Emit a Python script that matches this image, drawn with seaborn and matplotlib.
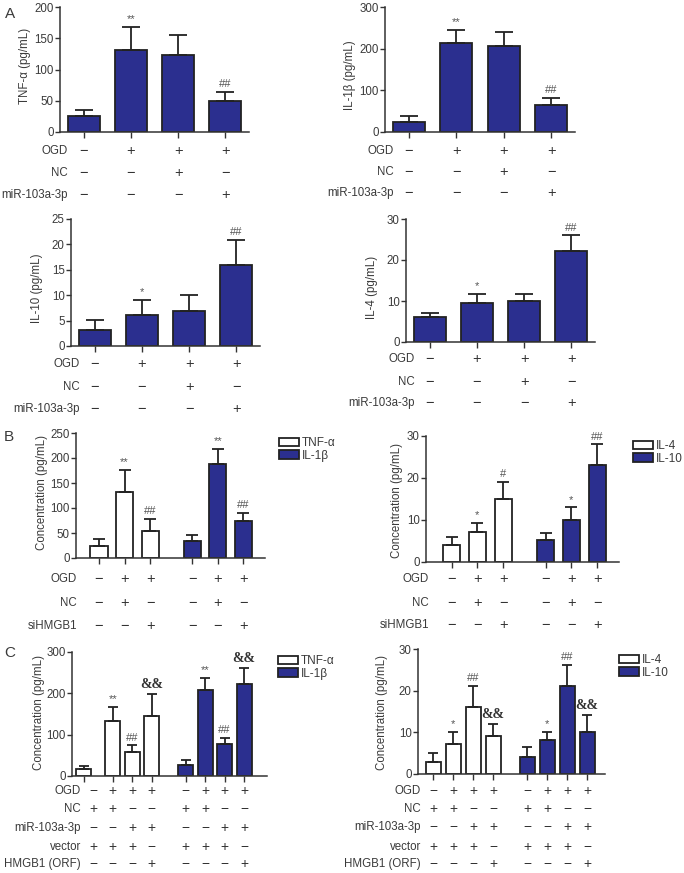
import numpy as np
import pandas as pd
import seaborn as sns
import matplotlib.pyplot as plt
from matplotlib.patches import Patch
from matplotlib.transforms import blended_transform_factory

# ---- data ----
# panel A (single series, 4 groups)
tnf_a = [25, 132, 124, 49]
tnf_a_err = [11, 36, 32, 15]
tnf_a_marks = ["", "**", "", "##"]
il1b_a = [24, 214, 206, 66]
il1b_a_err = [14, 32, 35, 15]
il1b_a_marks = ["", "**", "", "##"]
il10_a = [3.1, 6.1, 6.8, 16.0]
il10_a_err = [2.0, 2.9, 3.3, 4.9]
il10_a_marks = ["", "*", "", "##"]
il4_a = [6.1, 9.4, 9.9, 22.1]
il4_a_err = [0.9, 2.4, 1.9, 3.9]
il4_a_marks = ["", "*", "", "##"]
rows_a = ["OGD", "NC", "miR-103a-3p"]
signs_a = [["−", "+", "+", "+"],
           ["−", "−", "+", "−"],
           ["−", "−", "−", "+"]]

# panel B (two series, 3 groups each)
tnf_b = [24, 133, 55]
tnf_b_err = [14, 43, 23]
tnf_b_marks = ["", "**", "##"]
il1b_b = [34, 188, 74]
il1b_b_err = [12, 31, 17]
il1b_b_marks = ["", "**", "##"]
il4_b = [4.1, 7.1, 15.1]
il4_b_err = [1.9, 2.3, 4.0]
il4_b_marks = ["", "*", "#"]
il10_b = [5.2, 10.1, 23.0]
il10_b_err = [1.8, 2.9, 5.0]
il10_b_marks = ["", "*", "##"]
rows_b = ["OGD", "NC", "siHMGB1"]
signs_b = [["−", "+", "+"] * 2,
           ["−", "+", "−"] * 2,
           ["−", "−", "+"] * 2]

# panel C (two series, 4 groups each)
tnf_c = [18, 134, 58, 144]
tnf_c_err = [7, 34, 16, 55]
tnf_c_marks = ["", "**", "##", "&&"]
il1b_c = [26, 208, 77, 222]
il1b_c_err = [12, 30, 16, 39]
il1b_c_marks = ["", "**", "##", "&&"]
il4_c = [3.0, 7.2, 16.2, 9.1]
il4_c_err = [2.0, 3.0, 4.9, 3.0]
il4_c_marks = ["", "*", "##", "&&"]
il10_c = [4.2, 8.2, 21.2, 10.2]
il10_c_err = [2.3, 2.0, 5.0, 4.0]
il10_c_marks = ["", "*", "##", "&&"]
rows_c = ["OGD", "NC", "miR-103a-3p", "vector", "HMGB1 (ORF)"]
signs_c = [["−", "+", "+", "+"] * 2,
           ["+", "+", "−", "−"] * 2,
           ["−", "−", "+", "+"] * 2,
           ["+", "+", "+", "−"] * 2,
           ["−", "−", "−", "+"] * 2]

# ---- style ----
sns.set_style("ticks")
plt.rcParams["font.family"] = ["Liberation Sans", "DejaVu Sans"]
plt.rcParams["axes.edgecolor"] = "#333333"
plt.rcParams["axes.linewidth"] = 1.1
plt.rcParams["text.color"] = "#3a3a3a"
plt.rcParams["xtick.color"] = "#333333"
plt.rcParams["ytick.color"] = "#333333"
plt.rcParams["ytick.labelcolor"] = "#3a3a3a"

NAVY = "#2b2f8f"
EDGE = "#222222"
FS = 8.3
W, H = 684, 873

fig = plt.figure(figsize=(W / 100, H / 100), dpi=100)


def add_ax(l, t, r, b):
    return fig.add_axes([l / W, 1 - b / H, (r - l) / W, (b - t) / H])


def draw_bars(ax, xs, vals, errs, marks, series, palette, width, capsize):
    df = pd.DataFrame({"x": xs, "y": vals, "s": series})
    sns.barplot(data=df, x="x", y="y", hue="s", palette=palette,
                native_scale=True, width=width, dodge=False, saturation=1,
                edgecolor=EDGE, linewidth=1.3, errorbar=None, legend=False,
                ax=ax)
    ax.errorbar(xs, vals, yerr=[np.zeros(len(errs)), errs], fmt="none",
                ecolor=EDGE, elinewidth=1.3, capsize=capsize, capthick=1.3,
                zorder=1)
    for x, v, e, m in zip(xs, vals, errs, marks):
        if not m:
            continue
        if m == "&&":
            ax.annotate(m, (x, v + e), xytext=(0, 2), textcoords="offset points",
                        ha="center", va="bottom", fontsize=10,
                        fontweight="bold", family="Liberation Serif",
                        color="#333333")
        else:
            ax.annotate(m, (x, v + e), xytext=(0, 2), textcoords="offset points",
                        ha="center", va="bottom", fontsize=8, color="#555555")


def finish(ax, xs, xlim, ylim, yticks, ylabel, lab_xy, rows, signs,
           row_ys, row_right, sign_xs=None, sign_fs=10.5):
    ax.set_xlim(xlim)
    ax.set_ylim(ylim)
    ax.set_yticks(yticks)
    ax.set_xticks(xs)
    ax.set_xticklabels([])
    ax.set_xlabel("")
    ax.set_ylabel("")
    sns.despine(ax=ax)
    ax.tick_params(axis="y", length=3.5, width=1, labelsize=FS, pad=1)
    ax.tick_params(axis="x", length=4, width=1)
    fig.text(lab_xy[0] / W, 1 - lab_xy[1] / H, ylabel, rotation=90,
             ha="center", va="center", fontsize=FS)
    tr = blended_transform_factory(ax.transData, fig.transFigure)
    if sign_xs is None:
        sign_xs = xs
    for name, row, y in zip(rows, signs, row_ys):
        fig.text(row_right / W, 1 - y / H, name, ha="right", va="center",
                 fontsize=FS)
        for x, s in zip(sign_xs, row):
            ax.text(x, 1 - y / H, s, transform=tr, ha="center", va="center",
                    fontsize=sign_fs, color="#333333")


def add_legend(ax, labels, left, top):
    handles = [Patch(facecolor="white", edgecolor=EDGE, lw=1.3, label=labels[0]),
               Patch(facecolor=NAVY, edgecolor=EDGE, lw=1.3, label=labels[1])]
    ax.legend(handles=handles, loc="upper left",
              bbox_to_anchor=(left / W, 1 - top / H),
              bbox_transform=fig.transFigure, frameon=False, fontsize=8.5,
              handlelength=1.7, handleheight=0.7, handletextpad=0.25,
              labelspacing=0.05, borderpad=0, borderaxespad=0)


pos_a = [0, 1, 2, 3]
ser_a = ["a"] * 4
pal_a = {"a": NAVY}

# A1 TNF-a
ax = add_ax(60, 7, 249, 132)
draw_bars(ax, pos_a, tnf_a, tnf_a_err, tnf_a_marks, ser_a, pal_a, 0.68, 6.5)
finish(ax, pos_a, (-0.5, 3.5), (0, 200), [0, 50, 100, 150, 200],
       "TNF-α (pg/mL)", (25, 66), rows_a, signs_a, [151, 173, 195], 68)

# A2 IL-1b
ax = add_ax(385, 7, 575, 132)
draw_bars(ax, pos_a, il1b_a, il1b_a_err, il1b_a_marks, ser_a, pal_a, 0.68, 6.5)
finish(ax, pos_a, (-0.5, 3.5), (0, 300), [0, 100, 200, 300],
       "IL-1β (pg/mL)", (350, 75), rows_a, signs_a, [151, 172, 193], 394)

# A3 IL-10
ax = add_ax(71, 219, 260, 346)
draw_bars(ax, pos_a, il10_a, il10_a_err, il10_a_marks, ser_a, pal_a, 0.68, 6.5)
finish(ax, pos_a, (-0.5, 3.5), (0, 25), [0, 5, 10, 15, 20, 25],
       "IL-10 (pg/mL)", (37, 288), rows_a, signs_a, [364, 387, 409], 80)

# A4 IL-4
ax = add_ax(406, 219, 595, 342)
draw_bars(ax, pos_a, il4_a, il4_a_err, il4_a_marks, ser_a, pal_a, 0.68, 6.5)
finish(ax, pos_a, (-0.5, 3.5), (0, 30), [0, 10, 20, 30],
       "IL-4 (pg/mL)", (372, 287), rows_a, signs_a, [359, 382, 403], 415)

# B1 TNF-a / IL-1b
pos_b = [0, 1, 2, 3.65, 4.65, 5.65]
ax = add_ax(76, 433, 265, 558)
draw_bars(ax, pos_b, tnf_b + il1b_b, tnf_b_err + il1b_b_err,
          tnf_b_marks + il1b_b_marks, ["TNF-α"] * 3 + ["IL-1β"] * 3,
          {"TNF-α": "white", "IL-1β": NAVY}, 0.67, 4.3)
finish(ax, pos_b, (-0.9, 6.5), (0, 250), [0, 50, 100, 150, 200, 250],
       "Concentration (pg/mL)", (42, 493), rows_b, signs_b,
       [579, 603, 626], 77)
add_legend(ax, ["TNF-α", "IL-1β"], 279, 437)

# B2 IL-4 / IL-10
ax = add_ax(426, 436, 619, 562)
draw_bars(ax, pos_b, il4_b + il10_b, il4_b_err + il10_b_err,
          il4_b_marks + il10_b_marks, ["IL-4"] * 3 + ["IL-10"] * 3,
          {"IL-4": "white", "IL-10": NAVY}, 0.67, 4.3)
finish(ax, pos_b, (-1.0, 6.5), (0, 30), [0, 10, 20, 30],
       "Concentration (pg/mL)", (397, 500), rows_b, signs_b,
       [579, 603, 625], 429)
add_legend(ax, ["IL-4", "IL-10"], 633, 440)

# C1 TNF-a / IL-1b
pos_c1 = [0, 1.5, 2.5, 3.5, 5.25, 6.25, 7.25, 8.25]
ax = add_ax(72, 652, 267, 776)
draw_bars(ax, pos_c1, tnf_c + il1b_c, tnf_c_err + il1b_c_err,
          tnf_c_marks + il1b_c_marks, ["TNF-α"] * 4 + ["IL-1β"] * 4,
          {"TNF-α": "white", "IL-1β": NAVY}, 0.77, 3.6)
finish(ax, pos_c1, (-0.6, 9.43), (0, 300), [0, 100, 200, 300],
       "Concentration (pg/mL)", (39, 713), rows_c, signs_c,
       [791, 809, 828, 847, 864], 81,
       sign_xs=[0.5, 1.5, 2.5, 3.5, 5.25, 6.25, 7.25, 8.25], sign_fs=10)
add_legend(ax, ["TNF-α", "IL-1β"], 278, 655)

# C2 IL-4 / IL-10
pos_c2 = [0, 1, 2, 3, 4.7, 5.7, 6.7, 7.7]
ax = add_ax(418, 649, 605, 774)
draw_bars(ax, pos_c2, il4_c + il10_c, il4_c_err + il10_c_err,
          il4_c_marks + il10_c_marks, ["IL-4"] * 4 + ["IL-10"] * 4,
          {"IL-4": "white", "IL-10": NAVY}, 0.75, 3.6)
finish(ax, pos_c2, (-0.75, 8.6), (0, 30), [0, 10, 20, 30],
       "Concentration (pg/mL)", (382, 712), rows_c, signs_c,
       [791, 809, 827, 847, 864], 421, sign_fs=10)
add_legend(ax, ["IL-4", "IL-10"], 619, 654)

# panel letters
fig.text(10 / W, 1 - 14 / H, "A", fontsize=11, ha="center", va="center")
fig.text(9 / W, 1 - 437 / H, "B", fontsize=11, ha="center", va="center")
fig.text(10 / W, 1 - 653 / H, "C", fontsize=11, ha="center", va="center")

fig.savefig("out.png", dpi=100)
